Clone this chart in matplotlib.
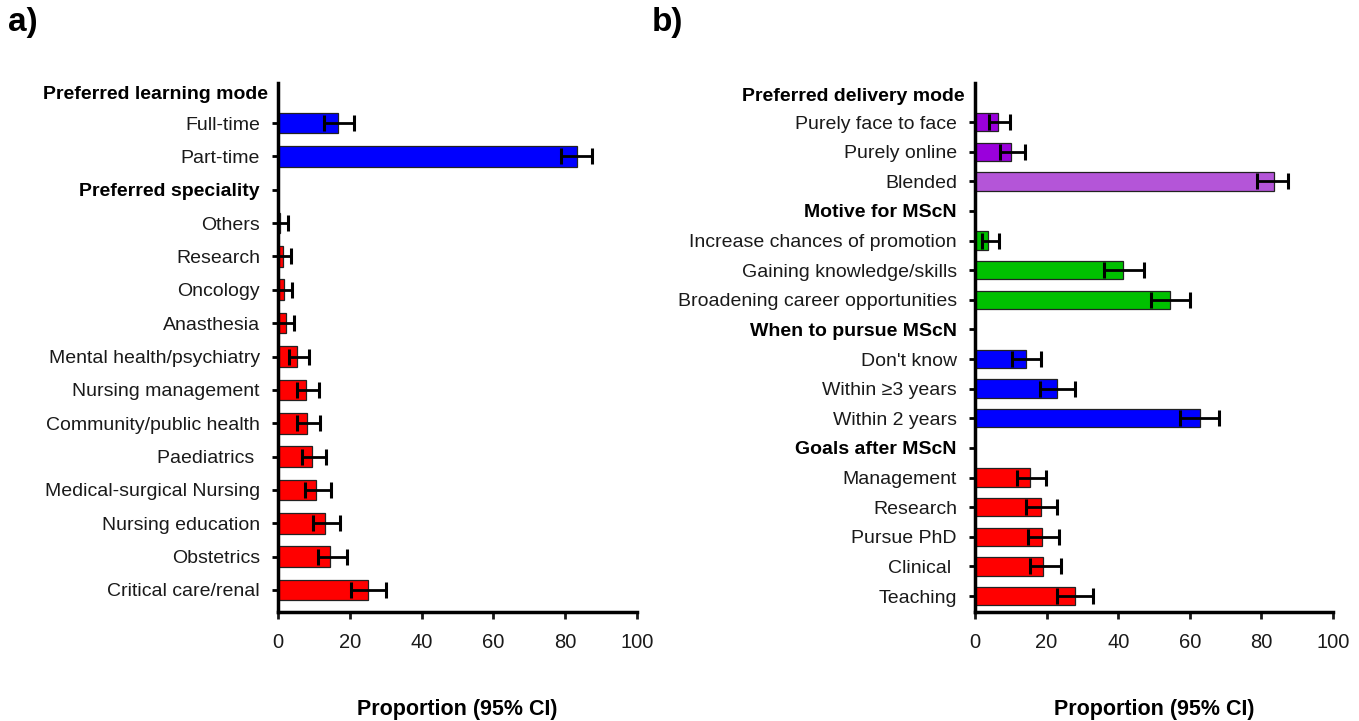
import numpy as np
import matplotlib
matplotlib.use("Agg")
import matplotlib.pyplot as plt

plt.rcParams['font.family'] = ['Liberation Sans', 'DejaVu Sans']

# panel a) -- None marks a bold header row
labels_a = ["Preferred learning mode", "Full-time", "Part-time",
            "Preferred speciality", "Others", "Research", "Oncology", "Anasthesia",
            "Mental health/psychiatry", "Nursing management", "Community/public health",
            "Paediatrics ", "Medical-surgical Nursing", "Nursing education",
            "Obstetrics", "Critical care/renal"]
vals_a = [None, 16.7, 83.2, None, 0.5, 1.4, 1.7, 2.1, 5.4, 7.7, 8.1, 9.6, 10.7, 13.0, 14.6, 25.0]
lo_a = [None, 12.8, 78.8, None, 0.0, 0.0, 0.0, 0.0, 3.1, 5.2, 5.3, 6.6, 7.6, 9.7, 11.1, 20.4]
hi_a = [None, 21.2, 87.4, None, 2.8, 3.6, 3.9, 4.5, 8.6, 11.4, 11.8, 13.5, 14.7, 17.4, 19.1, 30.2]
cols_a = [None, "blue", "blue", None] + ["red"] * 12

# panel b)
labels_b = ["Preferred delivery mode", "Purely face to face", "Purely online", "Blended",
            "Motive for MScN", "Increase chances of promotion", "Gaining knowledge/skills",
            "Broadening career opportunities",
            "When to pursue MScN", "Don't know", "Within \u22653 years", "Within 2 years",
            "Goals after MScN", "Management", "Research", "Pursue PhD", "Clinical ", "Teaching"]
vals_b = [None, 6.3, 10.0, 83.4, None, 3.7, 41.4, 54.5, None, 14.2, 22.8, 62.8,
          None, 15.4, 18.3, 18.8, 19.1, 27.8]
lo_b = [None, 4.0, 7.0, 78.9, None, 2.0, 36.1, 49.1, None, 10.4, 18.2, 57.3,
        None, 11.6, 14.3, 14.8, 15.4, 23.0]
hi_b = [None, 9.8, 14.1, 87.4, None, 6.6, 47.1, 60.1, None, 18.4, 28.0, 68.2,
        None, 19.8, 23.0, 23.5, 23.9, 33.0]
cols_b = [None, "purple", "purple", "lpurple", None, "green", "green", "green",
          None, "blue", "blue", "blue", None, "red", "red", "red", "red", "red"]

palette = {"blue": "#0000ff", "red": "#ff0000", "purple": "#9a00dc",
           "lpurple": "#b455d8", "green": "#00c000"}

W, H = 1359, 721
fig = plt.figure(figsize=(W / 100, H / 100), dpi=100)


def panel(rect, labels, vals, lo, hi, cols, ylim):
    ax = fig.add_axes(rect)
    y = np.arange(len(labels))
    for i in range(len(labels)):
        if vals[i] is None:
            continue
        ax.barh(y[i], vals[i], height=0.62, color=palette[cols[i]],
                edgecolor="#222222", linewidth=0.9, zorder=2)
        ax.errorbar(vals[i], y[i], xerr=[[vals[i] - lo[i]], [hi[i] - vals[i]]],
                    fmt="none", ecolor="black", elinewidth=2, capsize=6,
                    capthick=2.2, zorder=3)
    # top header sits a bit lower and closer to the axis than a tick label
    ax.set_yticks(y[1:])
    ax.set_yticklabels(labels[1:], fontsize=14, color="#1a1a1a")
    for t, v in zip(ax.get_yticklabels(), vals[1:]):
        if v is None:
            t.set_fontweight("bold")
            t.set_color("black")
    ax.text(-10 / (rect[2] * W), 0.15, labels[0], transform=ax.get_yaxis_transform(),
            ha="right", va="center", fontsize=14, fontweight="bold")
    ax.set_ylim(*ylim)
    ax.set_xlim(0, 100)
    ax.set_xticks(np.arange(0, 101, 20))
    ax.tick_params(axis="x", labelsize=14.5, length=5, width=2, pad=10, colors="#1a1a1a")
    ax.tick_params(axis="y", length=4, width=2, pad=9)
    for s in ["top", "right"]:
        ax.spines[s].set_visible(False)
    for s in ["left", "bottom"]:
        ax.spines[s].set_linewidth(2.5)
    ax.set_xlabel("Proportion (95% CI)", fontsize=15.5, fontweight="bold", labelpad=34)
    return ax


bottom = 1 - 612 / H
height = (612 - 83) / H
panel([278 / W, bottom, (637 - 278) / W, height], labels_a, vals_a, lo_a, hi_a, cols_a,
      (15.66, -0.2))
panel([975 / W, bottom, (1333 - 975) / W, height], labels_b, vals_b, lo_b, hi_b, cols_b,
      (17.54, -0.32))

fig.text(8 / W, 1 - 23 / H, "a)", fontsize=24, fontweight="bold", va="center")
fig.text(652 / W, 1 - 23 / H, "b)", fontsize=24, fontweight="bold", va="center")

fig.savefig("out.png", dpi=100)
